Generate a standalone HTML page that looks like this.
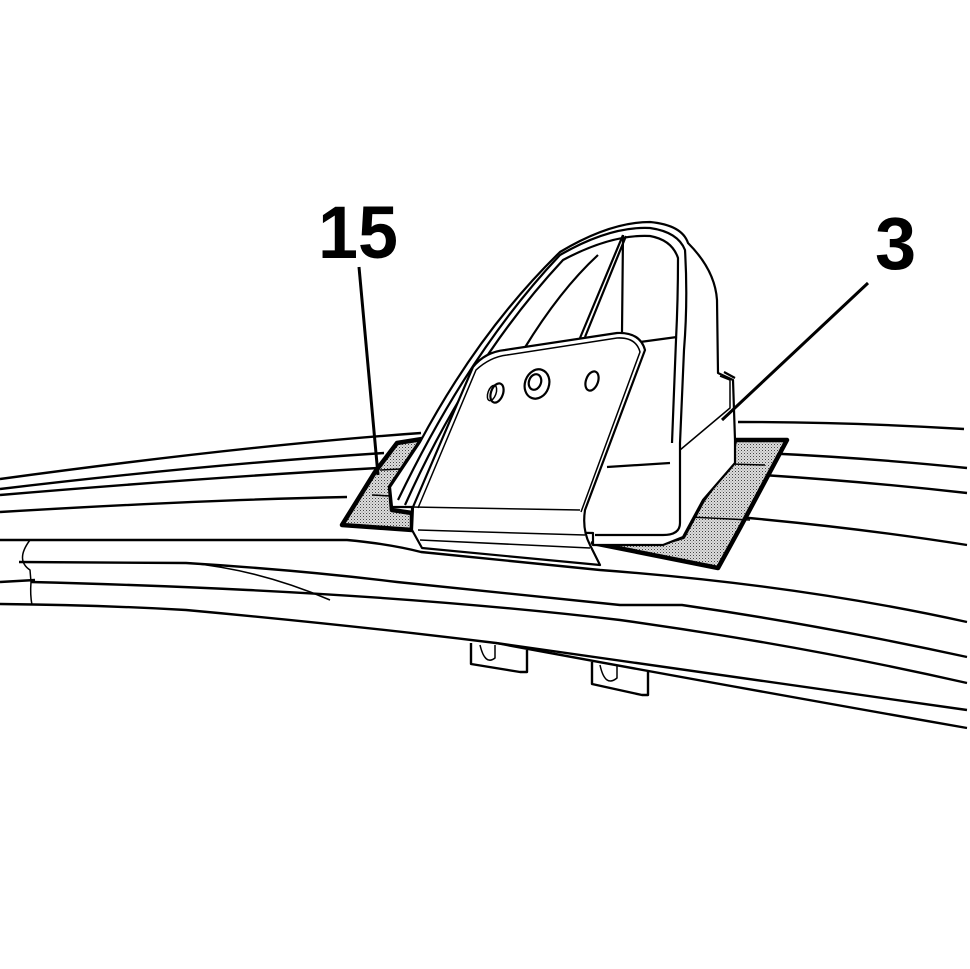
<!DOCTYPE html>
<html><head><meta charset="utf-8"><style>
html,body{margin:0;padding:0;background:#fff;}
svg{display:block;}
</style></head><body>
<svg width="970" height="969" viewBox="0 0 970 969" xmlns="http://www.w3.org/2000/svg">
<defs>
<pattern id="dots" width="3" height="3" patternUnits="userSpaceOnUse">
<rect width="3" height="3" fill="#dcdcdc"/><rect width="1" height="1" fill="#444"/><rect x="1.5" y="1.5" width="1" height="1" fill="#888"/>
</pattern>
</defs>
<g fill="none" stroke="#000" stroke-width="2.4" stroke-linejoin="round">
<path d="M0,479 Q250,445 421,433"/>
<path d="M0,489 Q200,465 384,453"/>
<path d="M0,495 Q200,478 378,468"/>
<path d="M0,512 Q200,500 347,497"/>
<path d="M738,422 Q850,422 964,429"/>
<path d="M763,453 Q870,458 967,468"/>
<path d="M763,475 Q870,482 967,493"/>
<path d="M738,517 Q860,528 967,545"/>
<path d="M0,540 L347,540 Q390,544 421,552 L600,570 Q800,585 967,622"/>
<path d="M19,562 L186,563 Q300,570 397,582 Q520,595 620,605 L682,605 Q820,625 967,657"/>
<path d="M31,582 Q150,585 248,590 Q450,600 620,620 Q800,645 967,683"/>
<path d="M0,604 Q100,605 186,610 Q350,625 496,643 Q750,680 967,710"/>
<path d="M496,643 Q750,690 967,728"/>
<path d="M0,582 L35,580" />
<path d="M30,540 Q15,560 30,570 L31,582 Q30,595 32,605" stroke-width="1.5"/>
<path d="M190,563 Q260,570 330,600" stroke-width="1.5"/>
<path d="M471,643 L471,664 L520,672 L527,672 L527,650"/>
<path d="M480,645 Q485,666 495,658 L495,645" stroke-width="1.5"/>
<path d="M592,662 L592,684 L642,695 L648,695 L648,672"/>
<path d="M600,665 Q605,688 617,678 L617,665" stroke-width="1.5"/>
</g>
<path d="M342,525 L375,472 L397,443 L422,439 L390,487 L392,510 L412,513 L412,530 Z" fill="url(#dots)" stroke="#000" stroke-width="4.5" stroke-linejoin="round"/>
<path d="M735,440 L787,440 L740,528 L718,568 L593,543 L663,543 L683,537 L703,500 L730,463 Z" fill="url(#dots)" stroke="#000" stroke-width="4.5" stroke-linejoin="round"/>
<g fill="none" stroke="#000" stroke-width="1.5">
<path d="M380,470 L420,468 M372,495 L410,497 M700,463 L765,465 M690,517 L750,520"/>
</g>
<g fill="#fff" stroke="#000" stroke-width="2.2" stroke-linejoin="round">
<path d="M688,243 Q715,270 717,300 L718,373 L733,380 L735,440 L735,463 L703,500 L683,537 L663,545 L593,545 L593,533 L412,530 L412,507 L392,507 L390,487 L420,442 Q480,330 560,252 Q610,222 650,222 Q682,225 688,243 Z"/>
<path d="M398,500 Q470,350 560,255 Q610,226 650,228 Q678,232 685,250 Q688,300 684,350 L680,443" fill="none"/>
<path d="M405,505 Q470,360 563,260 Q612,234 650,236 Q672,240 678,258 Q678,300 676,340 L672,443" fill="none"/>
<path d="M720,376 L730,380 L730,408 L680,450" fill="none" stroke-width="1.5"/>
<path d="M724,372 L735,378" fill="none"/>
<path d="M623,235 L580,338 M626,236 L585,337 M623,235 L622,332 M598,255 Q560,290 524,349 M640,342 L677,337 M607,467 L670,463 M680,443 L680,523 Q680,535 663,535 L595,535" fill="none"/>
<path d="M413,507 L473,367 Q485,352 505,350 L617,333 Q640,332 645,350 L585,510 Q582,530 590,545 L600,565 L422,548 L412,530 Z"/>
<path d="M418,508 L476,370 Q490,357 507,355 L617,338 Q636,337 640,352 L581,512" fill="none" stroke-width="1.5"/>
<path d="M412,507 L580,510 M418,530 L585,535 M420,540 L590,548" fill="none" stroke-width="1.5"/>
<ellipse cx="497" cy="393" rx="6" ry="10" transform="rotate(20 497 393)"/>
<ellipse cx="492" cy="393" rx="4" ry="8" transform="rotate(20 492 393)" fill="none" stroke-width="1.5"/>
<ellipse cx="537" cy="384" rx="12" ry="15" transform="rotate(20 537 384)"/>
<ellipse cx="535" cy="382" rx="6" ry="8" transform="rotate(20 535 382)"/>
<ellipse cx="592" cy="381" rx="6" ry="10" transform="rotate(20 592 381)"/>
</g>
<g stroke="#000" stroke-width="3" fill="none">
<path d="M359,267 L378,475"/>
<path d="M868,283 L722,420"/>
</g>
<text x="318" y="258" font-family="Liberation Sans, sans-serif" font-weight="bold" font-size="74" textLength="80" lengthAdjust="spacingAndGlyphs">15</text>
<text x="875" y="269" font-family="Liberation Sans, sans-serif" font-weight="bold" font-size="74">3</text>
</svg>
</body></html>
